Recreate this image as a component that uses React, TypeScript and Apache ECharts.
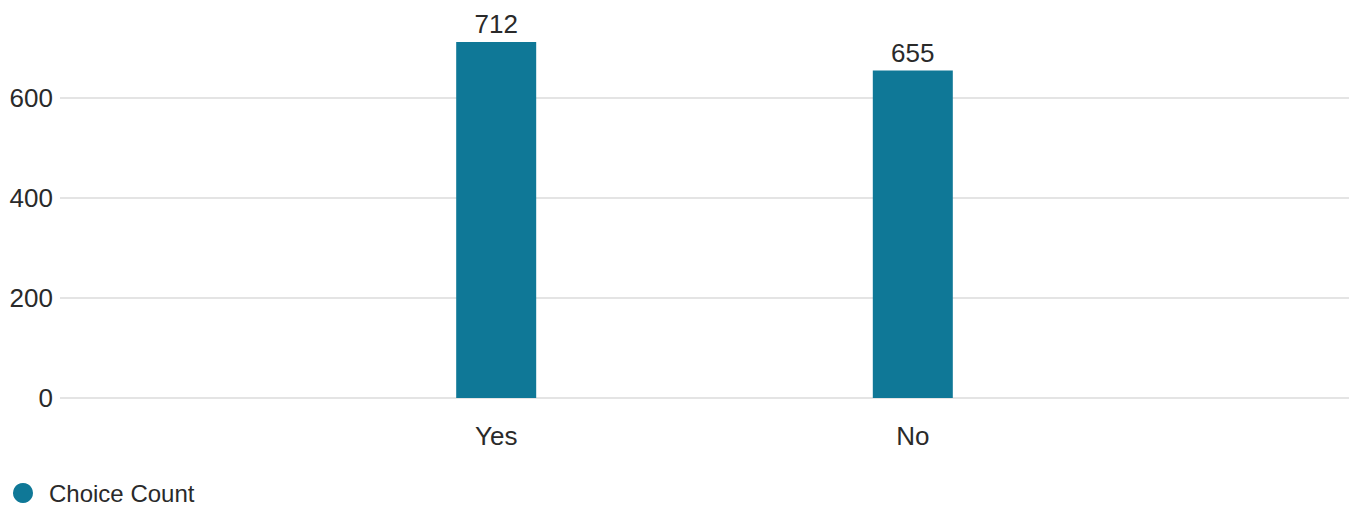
import React, { useEffect, useRef } from "react";
import * as echarts from "echarts";

const categories: string[] = ["Yes", "No"];
const choiceCounts: number[] = [712, 655];
const seriesName = "Choice Count";
const yTicks: number[] = [0, 200, 400, 600];

const FONT = "'Liberation Sans', Arial, Helvetica, sans-serif";
const TEXT = "#2a2a2a";
const BAR = "#0f7897";

export default function App() {
  const ref = useRef<HTMLDivElement>(null);

  useEffect(() => {
    if (!ref.current) return;
    const chart = echarts.init(ref.current, undefined, { renderer: "svg" });
    chart.setOption({
      animation: false,
      textStyle: { fontFamily: FONT },
      grid: { left: 60, right: 6, top: 0, bottom: 110, containLabel: false },
      legend: {
        show: true,
        left: 13,
        top: 481,
        padding: 0,
        icon: "circle",
        itemWidth: 20,
        itemHeight: 20,
        data: [seriesName],
        textStyle: { fontFamily: FONT, fontSize: 24, color: TEXT, lineHeight: 20, padding: [0, 0, 0, 11] },
      },
      xAxis: {
        type: "value",
        min: -1.047,
        max: 2.047,
        axisLine: { show: false },
        axisTick: { show: false },
        splitLine: { show: false },
        axisLabel: {
          customValues: categories.map((_, i) => i),
          formatter: (v: number) => categories[Math.round(v)] ?? "",
          fontFamily: FONT,
          fontSize: 26,
          color: TEXT,
          margin: 25,
        },
      },
      yAxis: {
        type: "value",
        min: 0,
        max: 796,
        interval: 200,
        axisLine: { show: false },
        axisTick: { show: false },
        splitLine: { show: true, showMaxLine: false, lineStyle: { color: "#e4e4e4", width: 2 } },
        axisLabel: {
          showMaxLabel: false,
          formatter: (v: number) => (yTicks.includes(v) ? String(v) : ""),
          fontFamily: FONT,
          fontSize: 26,
          color: TEXT,
          margin: 7,
        },
      },
      series: [
        {
          name: seriesName,
          type: "bar",
          barWidth: 80,
          itemStyle: { color: BAR },
          label: {
            show: true,
            position: "top",
            distance: 5,
            fontFamily: FONT,
            fontSize: 26,
            color: TEXT,
            formatter: (p: any) => String(p.value[1]),
          },
          data: choiceCounts.map((v, i) => [i, v]),
        },
      ],
    });
    return () => chart.dispose();
  }, []);

  return (
    <div
      ref={ref}
      style={{ position: "fixed", left: 0, top: 0, width: 1355, height: 508, background: "#fff" }}
    />
  );
}
